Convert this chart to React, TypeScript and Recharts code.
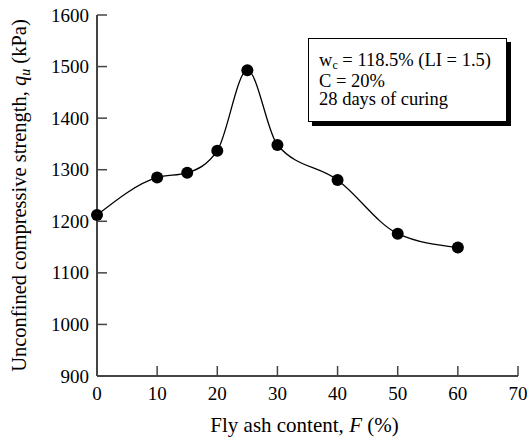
import { LineChart, Line, XAxis, YAxis } from 'recharts'

const flyAsh = [0, 10, 15, 20, 25, 30, 40, 50, 60]
const strength = [1212, 1285, 1294, 1337, 1493, 1348, 1280, 1176, 1149]
const xTicks = [0, 10, 20, 30, 40, 50, 60, 70]
const yTicks = [900, 1000, 1100, 1200, 1300, 1400, 1500, 1600]

const data = flyAsh.map((f, i) => ({ f, q: strength[i] }))

const FONT = "'Liberation Serif', 'Times New Roman', serif"
const AXIS = '#444'

const LeftTick = (props: any) => {
  const { x, y, payload } = props
  return (
    <g>
      <line x1={x} y1={y} x2={x + 10} y2={y} stroke={AXIS} strokeWidth={1.5} />
      <text x={x - 8} y={y + 6.5} textAnchor="end" fontFamily={FONT} fontSize={19} fill="#000">
        {payload.value}
      </text>
    </g>
  )
}

const RightTick = (props: any) => {
  const { x, y } = props
  return <line x1={x - 10} y1={y} x2={x} y2={y} stroke={AXIS} strokeWidth={1.5} />
}

const BottomTick = (props: any) => {
  const { x, y, payload } = props
  return (
    <g>
      <line x1={x} y1={y} x2={x} y2={y - 10} stroke={AXIS} strokeWidth={1.5} />
      <text x={x} y={y + 23.5} textAnchor="middle" fontFamily={FONT} fontSize={19} fill="#000">
        {payload.value}
      </text>
    </g>
  )
}

const TopTick = (props: any) => {
  const { x, y } = props
  return <line x1={x} y1={y} x2={x} y2={y + 10} stroke={AXIS} strokeWidth={1.5} />
}

const XTitle = (props: any) => {
  const { viewBox } = props
  return (
    <text x={viewBox.x + viewBox.width / 2 - 3} y={viewBox.y + 56} textAnchor="middle" fontFamily={FONT} fontSize={21} fill="#000">
      Fly ash content,{' '}
      <tspan fontStyle="italic">F</tspan> (%)
    </text>
  )
}

const YTitle = (props: any) => {
  const { viewBox } = props
  const cx = viewBox.x + 26
  const cy = viewBox.y + viewBox.height / 2
  return (
    <text
      x={cx}
      y={cy}
      transform={`rotate(-90 ${cx} ${cy})`}
      textAnchor="middle"
      fontFamily={FONT}
      fontSize={20.5}
      fill="#000"
    >
      Unconfined compressive strength,{' '}
      <tspan fontStyle="italic">q</tspan>
      <tspan fontStyle="italic" fontSize={14} dy={4}>u</tspan>
      <tspan dy={-4}> (kPa)</tspan>
    </text>
  )
}

export default function App() {
  return (
    <div style={{ position: 'absolute', left: 0, top: 0, width: 529, height: 437, background: '#fff' }}>
      <LineChart width={529} height={437} data={data} margin={{ top: 15, right: 11, bottom: 0, left: 0 }}>
        <XAxis
          dataKey="f"
          type="number"
          domain={[0, 70]}
          ticks={xTicks}
          height={61}
          tickSize={0}
          tickMargin={0}
          tickLine={false}
          axisLine={{ stroke: AXIS, strokeWidth: 2 }}
          tick={<BottomTick />}
          label={<XTitle />}
        />
        <XAxis
          xAxisId="top"
          orientation="top"
          type="number"
          domain={[0, 70]}
          ticks={xTicks}
          height={0}
          tickSize={0}
          tickMargin={0}
          tickLine={false}
          axisLine={{ stroke: AXIS, strokeWidth: 2 }}
          tick={<TopTick />}
        />
        <YAxis
          type="number"
          domain={[900, 1600]}
          ticks={yTicks}
          width={97}
          tickSize={0}
          tickMargin={0}
          tickLine={false}
          axisLine={{ stroke: AXIS, strokeWidth: 2 }}
          tick={<LeftTick />}
          label={<YTitle />}
        />
        <YAxis
          yAxisId="right"
          orientation="right"
          type="number"
          domain={[900, 1600]}
          ticks={yTicks}
          width={0}
          tickSize={0}
          tickMargin={0}
          tickLine={false}
          axisLine={{ stroke: AXIS, strokeWidth: 2 }}
          tick={<RightTick />}
        />
        <Line
          type="monotone"
          dataKey="q"
          stroke="#000"
          strokeWidth={1.3}
          dot={{ r: 6, fill: '#000', stroke: '#000', strokeWidth: 0 }}
          activeDot={false}
          isAnimationActive={false}
        />
      </LineChart>
      <div
        style={{
          position: 'absolute',
          left: 308,
          top: 38,
          width: 199,
          height: 84,
          border: '1px solid #000',
          boxShadow: '4px 4px 0 #000',
          background: '#fff',
          fontFamily: FONT,
          fontSize: 18.5,
          lineHeight: '18.7px',
          padding: '12px 0 0 10px',
          boxSizing: 'border-box',
          color: '#000',
          whiteSpace: 'nowrap',
        }}
      >
        <div>
          w<sub style={{ fontSize: 12, verticalAlign: 'baseline', position: 'relative', top: 3 }}>c</sub> = 118.5% (LI = 1.5)
        </div>
        <div>C = 20%</div>
        <div>28 days of curing</div>
      </div>
    </div>
  )
}
